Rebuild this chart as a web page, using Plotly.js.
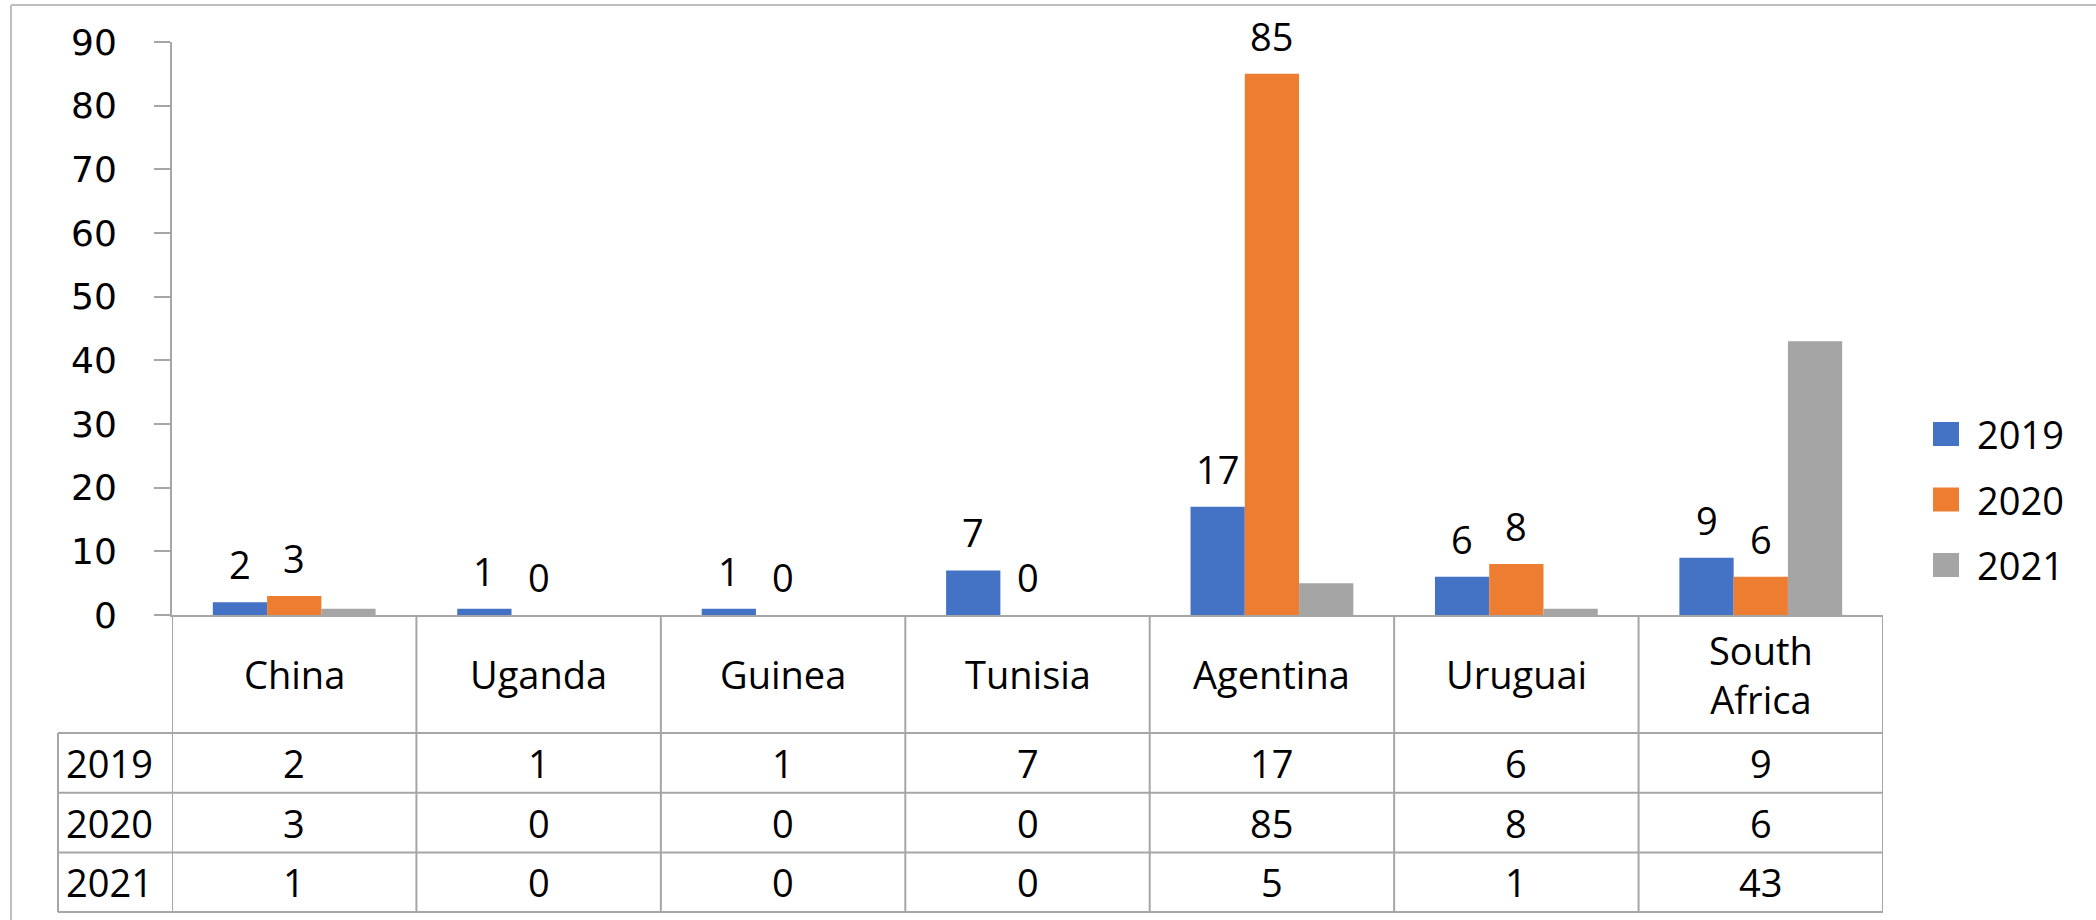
<!DOCTYPE html>
<html><head><meta charset="utf-8">
<script src="https://cdn.plot.ly/plotly-3.0.1.min.js"></script>
<style>html,body{margin:0;padding:0;background:#fff;} #chart{width:2096px;height:920px;}</style>
</head><body><div id="chart"></div>
<script>
// ---- data ----
const categories = ["China", "Uganda", "Guinea", "Tunisia", "Agentina", "Uruguai", "South Africa"];
const categoryLabels = ["China", "Uganda", "Guinea", "Tunisia", "Agentina", "Uruguai", "South<br>Africa"];
const seriesNames = ["2019", "2020", "2021"];
const values2019 = [2, 1, 1, 7, 17, 6, 9];
const values2020 = [3, 0, 0, 0, 85, 8, 6];
const values2021 = [1, 0, 0, 0, 5, 1, 43];
const labeledSeries = [true, true, false];
const yTickValues = [0, 10, 20, 30, 40, 50, 60, 70, 80, 90];
const colors = ["#4472C4", "#ED7D31", "#A5A5A5"];

// ---- layout constants ----
const W = 2096, H = 920, L = 172, R = 213, T = 42, B = 305;
const plotW = W - L - R, plotH = H - T - B;
const bargap = 0.334;
const xp = px => (px - L) / plotW;
const yp = py => (H - B - py) / plotH;
const gridColor = "#A6A6A6";
const textFont = {family: "Open Sans, Noto Sans, sans-serif", size: 38, color: "#000"};
const tickFont = {family: "DejaVu Sans, Verdana, sans-serif", size: 36, color: "#000"};

const allValues = [values2019, values2020, values2021];
const traces = allValues.map((vals, s) => ({
  type: "bar", x: categories, y: vals, name: seriesNames[s],
  marker: {color: colors[s], line: {width: 0}}, hoverinfo: "x+y+name"
}));

const shapes = [];
const annotations = [];
const nCat = categories.length;
const barW = plotW / nCat * (1 - bargap) / allValues.length;

// data labels above bars
allValues.forEach((vals, s) => {
  if (!labeledSeries[s]) return;
  vals.forEach((v, i) => {
    annotations.push({x: categories[i], y: v, xref: "x", yref: "y", text: String(v),
      showarrow: false, yanchor: "bottom", xanchor: "center",
      xshift: (s - (allValues.length - 1) / 2) * barW, yshift: 10, font: textFont});
  });
});

// data table
const headerTop = 615, headerBottom = 733, rowH = 59.7, tableLeft = 58, tableRight = 1883;
const tableBottom = headerBottom + rowH * allValues.length;
for (let k = 0; k <= allValues.length; k++) {
  const py = headerBottom + rowH * k;
  shapes.push({type: "line", xref: "paper", yref: "paper", x0: xp(tableLeft), x1: xp(tableRight),
    y0: yp(py), y1: yp(py), line: {color: gridColor, width: 2}});
}
shapes.push({type: "line", xref: "paper", yref: "paper", x0: xp(tableLeft), x1: xp(tableLeft),
  y0: yp(headerBottom), y1: yp(tableBottom), line: {color: gridColor, width: 2}});
for (let i = 0; i <= nCat; i++) {
  shapes.push({type: "line", xref: "x", yref: "paper", x0: i - 0.5, x1: i - 0.5,
    y0: yp(headerTop), y1: yp(tableBottom), line: {color: gridColor, width: 2}});
}
categories.forEach((c, i) => {
  annotations.push({x: c, y: yp((headerTop + headerBottom) / 2), xref: "x", yref: "paper",
    text: categoryLabels[i], showarrow: false, xanchor: "center", yanchor: "middle", font: textFont});
});
allValues.forEach((vals, s) => {
  const cy = yp(headerBottom + rowH * (s + 0.5));
  annotations.push({x: xp(tableLeft + 6), y: cy, xref: "paper", yref: "paper", text: seriesNames[s],
    showarrow: false, xanchor: "left", yanchor: "middle", font: textFont});
  vals.forEach((v, i) => {
    annotations.push({x: categories[i], y: cy, xref: "x", yref: "paper", text: String(v),
      showarrow: false, xanchor: "center", yanchor: "middle", font: textFont});
  });
});

// legend
const legendX = 1933, legendSq = 26, legendY0 = 434, legendStep = 65.5;
seriesNames.forEach((n, s) => {
  const cy = legendY0 + legendStep * s;
  shapes.push({type: "rect", xref: "paper", yref: "paper", x0: xp(legendX), x1: xp(legendX + legendSq),
    y0: yp(cy - 12), y1: yp(cy + 12), fillcolor: colors[s], line: {width: 0}});
  annotations.push({x: xp(legendX + 42), y: yp(cy), xref: "paper", yref: "paper", text: n,
    showarrow: false, xanchor: "left", yanchor: "middle", font: textFont});
});

// outer chart border
shapes.push({type: "line", xref: "paper", yref: "paper", x0: xp(11), x1: xp(W + 5), y0: yp(5), y1: yp(5),
  line: {color: "#BFBFBF", width: 2}});
shapes.push({type: "line", xref: "paper", yref: "paper", x0: xp(11), x1: xp(11), y0: yp(5), y1: yp(H + 5),
  line: {color: "#BFBFBF", width: 2}});

const layout = {
  width: W, height: H, margin: {l: L, r: R, t: T, b: B, pad: 0},
  paper_bgcolor: "#fff", plot_bgcolor: "#fff",
  barmode: "group", bargap: bargap, bargroupgap: 0, showlegend: false,
  xaxis: {type: "category", range: [-0.5, nCat - 0.5], showticklabels: false, ticks: "",
    showgrid: false, zeroline: false, showline: true, linecolor: gridColor, linewidth: 2, fixedrange: true},
  yaxis: {range: [0, 90], tickvals: yTickValues, ticks: "outside", ticklen: 16, tickwidth: 2,
    tickcolor: gridColor, showline: true, linecolor: gridColor, linewidth: 2, showgrid: false,
    zeroline: false, tickfont: tickFont, ticklabelstandoff: 30, fixedrange: true},
  shapes: shapes, annotations: annotations
};
Plotly.newPlot("chart", traces, layout, {displayModeBar: false, staticPlot: true});
</script></body></html>
